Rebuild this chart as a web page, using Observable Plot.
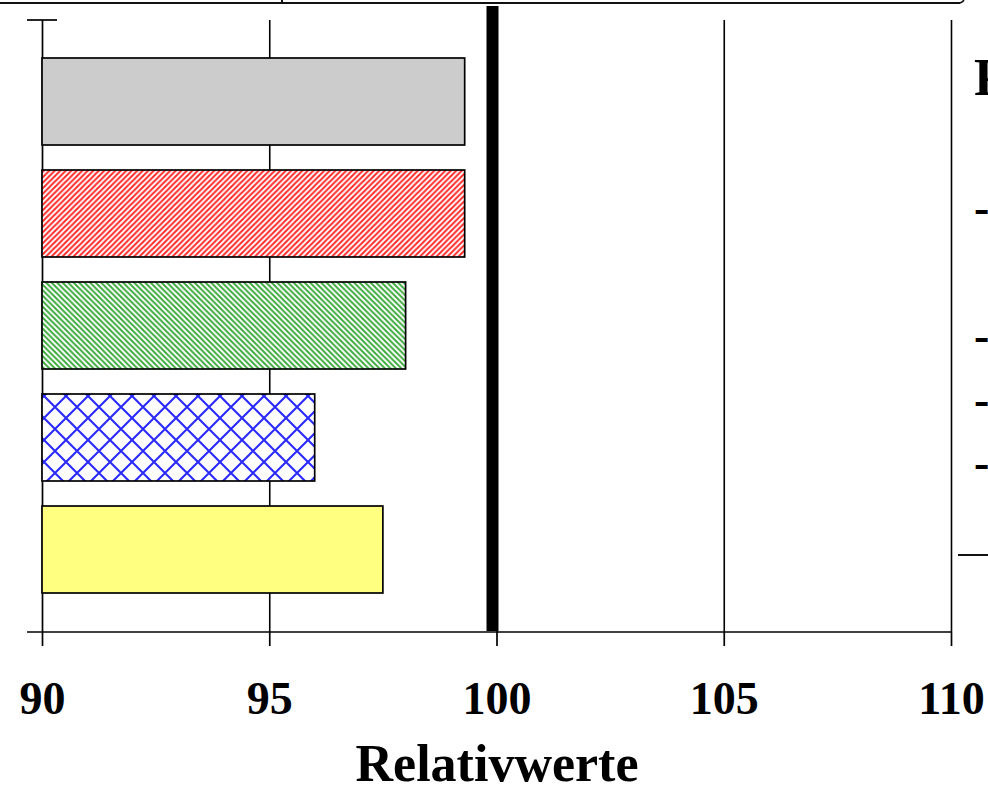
<!DOCTYPE html>
<html><head><meta charset="utf-8">
<script src="https://cdn.jsdelivr.net/npm/d3@7"></script>
<script src="https://cdn.jsdelivr.net/npm/@observablehq/plot@0.6"></script>
<style>
html,body{margin:0;padding:0;background:#fff;}
#wrap{position:relative;width:988px;height:786px;overflow:hidden;background:#fff;}
#chart{position:absolute;left:0;top:0;}
#overlay{position:absolute;left:0;top:0;pointer-events:none;}
</style></head>
<body>
<svg width="0" height="0" style="position:absolute">
  <defs>
    <pattern id="pRed" patternUnits="userSpaceOnUse" width="5.5" height="5.5">
      <rect width="5.5" height="5.5" fill="#fff"/>
      <path d="M-1,1 L1,-1 M0,5.5 L5.5,0 M4.5,6.5 L6.5,4.5" stroke="#ff2a2a" stroke-width="2"/>
    </pattern>
    <pattern id="pGreen" patternUnits="userSpaceOnUse" width="5.5" height="5.5">
      <rect width="5.5" height="5.5" fill="#fff"/>
      <path d="M0,0 L5.5,5.5 M-1,4.5 L1,6.5 M4.5,-1 L6.5,1" stroke="#3aa83a" stroke-width="1.9"/>
    </pattern>
    <pattern id="pBlue" patternUnits="userSpaceOnUse" width="22" height="22">
      <rect width="22" height="22" fill="#fff"/>
      <path d="M0,0 L22,22 M0,22 L22,0" stroke="#2a2aff" stroke-width="2.1"/>
    </pattern>
  </defs>
</svg>
<div id="wrap">
  <div id="chart"></div>
  <svg id="overlay" width="988" height="786"></svg>
</div>
<script>
// ---- data ----
const categories = ["Reihe 1", "Reihe 2", "Reihe 3", "Reihe 4", "Reihe 5"];
const values = [99.3, 99.3, 98.0, 96.0, 97.5];
const fills = ["#cccccc", "url(#pRed)", "url(#pGreen)", "url(#pBlue)", "#ffff80"];
const xTicks = [90, 95, 100, 105, 110];
const gridTicks = [95, 100, 105, 110];
const referenceValue = [100];
const baseline = 90;
const xLabel = "Relativwerte";
// cut-off fragments of the neighbouring legend
const sideLetter = ["P"];
const sideDashes = ["-", "-", "-", "-"];

const data = categories.map((c, i) => ({category: c, value: values[i], fill: fills[i]}));

function frameTicks(index, scales, values, dims) {
  const g = d3.create("svg:g").attr("stroke", "#000").attr("stroke-width", 1.7);
  const x0 = dims.marginLeft, x1 = dims.width - dims.marginRight;
  const yTop = dims.marginTop, yBot = dims.height - dims.marginBottom;
  g.append("line").attr("x1", x0 - 15).attr("x2", x0 + 15).attr("y1", yTop).attr("y2", yTop);
  g.append("line").attr("x1", x0 - 15).attr("x2", x1).attr("y1", yBot).attr("y2", yBot);
  return g.node();
}

const chart = Plot.plot({
  width: 988,
  height: 786,
  marginLeft: 42,
  marginRight: 37,
  marginTop: 20,
  marginBottom: 154,
  x: {domain: [90, 110], label: null},
  y: {domain: categories, paddingInner: 0.22, paddingOuter: 0.34, axis: null},
  color: {type: "identity"},
  style: {fontFamily: "'Liberation Serif', 'Times New Roman', serif", background: "#fff", color: "#000", overflow: "visible"},
  marks: [
    Plot.ruleX(gridTicks, {stroke: "#000", strokeWidth: 1.6}),
    Plot.ruleX([baseline], {stroke: "#000", strokeWidth: 1.7}),
    Plot.barX(data, {x1: baseline, x2: "value", y: "category", fill: "fill", stroke: "#000", strokeWidth: 1.7}),
    Plot.ruleX(referenceValue, {stroke: "#000", strokeWidth: 12, dx: -4.5, insetTop: -14, insetBottom: 1}),
    Plot.axisX({ticks: xTicks, tickSize: 14, tickPadding: 35, fontSize: 46, fontWeight: "bold", label: null, tickFormat: d => String(d)}),
    Plot.text([xLabel], {frameAnchor: "bottom", lineAnchor: "top", dy: 112, fontSize: 52, fontWeight: "bold", fill: "#000"}),
    frameTicks
  ]
});
d3.select(chart).selectAll('g[aria-label="x-axis tick"] path').attr("stroke-width", 1.7);
document.getElementById("chart").appendChild(chart);

// overlay: fragments of surrounding page (top border line, neighbouring legend)
const ov = d3.select("#overlay");
ov.append("line").attr("x1", 0).attr("x2", 960).attr("y1", 3).attr("y2", 3).attr("stroke", "#111").attr("stroke-width", 2);
ov.append("line").attr("x1", 282).attr("x2", 282).attr("y1", 0).attr("y2", 3).attr("stroke", "#111").attr("stroke-width", 2);
ov.append("path").attr("d", "M958,3 Q962,3 964,0").attr("fill", "none").attr("stroke", "#111").attr("stroke-width", 1.5);
ov.selectAll("text.letter").data(sideLetter).join("text").attr("class", "letter")
  .attr("x", 974).attr("y", 95).attr("font-family", "'Liberation Serif', serif").attr("font-weight", "bold").attr("font-size", 53).text(d => d);
const dashY = [223, 351, 415, 478];
ov.selectAll("text.dash").data(sideDashes).join("text").attr("class", "dash")
  .attr("x", 974).attr("y", (d, i) => dashY[i]).attr("font-family", "'Liberation Serif', serif").attr("font-weight", "bold").attr("font-size", 46).text(d => d);
ov.append("line").attr("x1", 958).attr("x2", 988).attr("y1", 555).attr("y2", 555).attr("stroke", "#111").attr("stroke-width", 2);
</script>
</body></html>
